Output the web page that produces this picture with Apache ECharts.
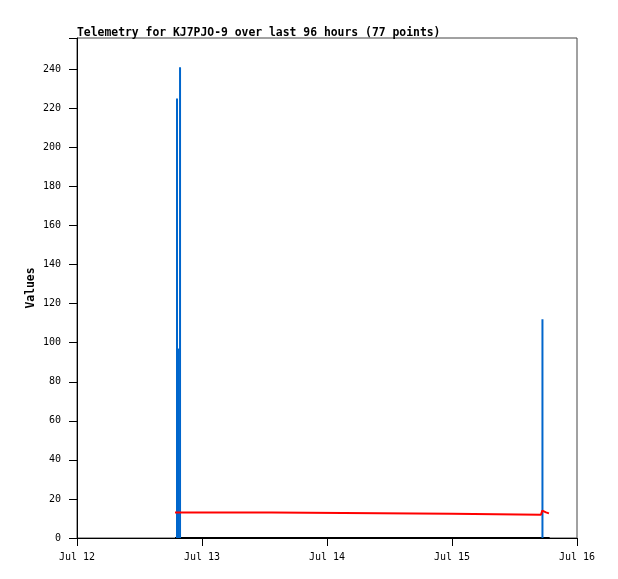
<!DOCTYPE html>
<html>
<head>
<meta charset="utf-8">
<script src="https://cdn.jsdelivr.net/npm/echarts@6/dist/echarts.min.js"></script>
<style>html,body{margin:0;padding:0;background:#fff}#c{width:618px;height:579px}</style>
</head>
<body>
<div id="c"></div>
<script>
// Axis range (hours since Jul 12 00:00)
const xTickLabels = ["Jul 12", "Jul 13", "Jul 14", "Jul 15", "Jul 16"];
const startDate = "2024-07-12T00:00";

// Blue spikes
const blueTimes = ["2024-07-12T19:12", "2024-07-12T19:29", "2024-07-12T19:47", "2024-07-15T17:22"];
const blueValues = [225, 97, 241, 112];

// Red line
const redTimes = ["2024-07-12T18:49", "2024-07-13T13:20", "2024-07-13T13:32", "2024-07-14T23:54",
                  "2024-07-15T00:06", "2024-07-15T17:05", "2024-07-15T17:20", "2024-07-15T17:40",
                  "2024-07-15T18:03", "2024-07-15T18:37"];
const redValues = [13.0, 13.0, 12.4, 12.4, 11.9, 11.9, 14.0, 13.6, 13.1, 12.6];

// Black line
const blackTimes = ["2024-07-12T18:49", "2024-07-15T18:45"];
const blackValues = [0, 0];

function hoursFrom(s) {
  const p = s.match(/(\d+)-(\d+)-(\d+)T(\d+):(\d+)/);
  const q = startDate.match(/(\d+)-(\d+)-(\d+)T(\d+):(\d+)/);
  const a = Date.UTC(+p[1], +p[2] - 1, +p[3], +p[4], +p[5]);
  const b = Date.UTC(+q[1], +q[2] - 1, +q[3], +q[4], +q[5]);
  return (a - b) / 3600000;
}
const pair = (ts, vs) => ts.map((t, i) => [hoursFrom(t), vs[i]]);

const mono = "DejaVu Sans Mono";
const chart = echarts.init(document.getElementById('c'));
chart.setOption({
  animation: false,
  backgroundColor: '#fff',
  title: {
    text: 'Telemetry for KJ7PJO-9 over last 96 hours (77 points)',
    left: 72, top: 23,
    textStyle: { fontFamily: mono, fontSize: 11.4, fontWeight: 'bold', color: '#000' }
  },
  grid: { left: 77, top: 38, width: 500, height: 500, show: true, borderColor: '#444', borderWidth: 1, backgroundColor: 'transparent' },
  xAxis: {
    type: 'value', min: 0, max: 96, interval: 24,
    axisLine: { lineStyle: { color: '#000', width: 1 } },
    axisTick: { show: true, inside: false, length: 8, lineStyle: { color: '#000' } },
    splitLine: { show: false },
    axisLabel: { margin: 14, fontFamily: mono, fontSize: 10, color: '#000',
      formatter: v => xTickLabels[Math.round(v / 24)] }
  },
  yAxis: {
    type: 'value', min: 0, max: 256, interval: 20,
    name: 'Values', nameLocation: 'middle', nameGap: 40, nameRotate: 90, nameMoveOverlap: false,
    nameTextStyle: { fontFamily: mono, fontSize: 11.4, fontWeight: 'bold', color: '#000' },
    axisLine: { show: true, lineStyle: { color: '#000', width: 1 } },
    axisTick: { show: true, inside: false, length: 8, lineStyle: { color: '#000' } },
    splitLine: { show: false },
    axisLabel: { margin: 16, fontFamily: mono, fontSize: 10, color: '#000',
      formatter: v => (v > 250 ? '' : String(v)) }
  },
  series: [
    {
      type: 'line', data: pair(blackTimes, blackValues), showSymbol: false, clip: false, z: 3,
      lineStyle: { color: '#000', width: 2 }
    },
    {
      type: 'bar', data: pair(blueTimes, blueValues), barWidth: 2, z: 4,
      itemStyle: { color: '#0066cc' }
    },
    {
      type: 'line', data: pair(redTimes, redValues), showSymbol: false, z: 5,
      lineStyle: { color: '#ff0000', width: 2 }
    }
  ]
});
</script>
</body>
</html>
